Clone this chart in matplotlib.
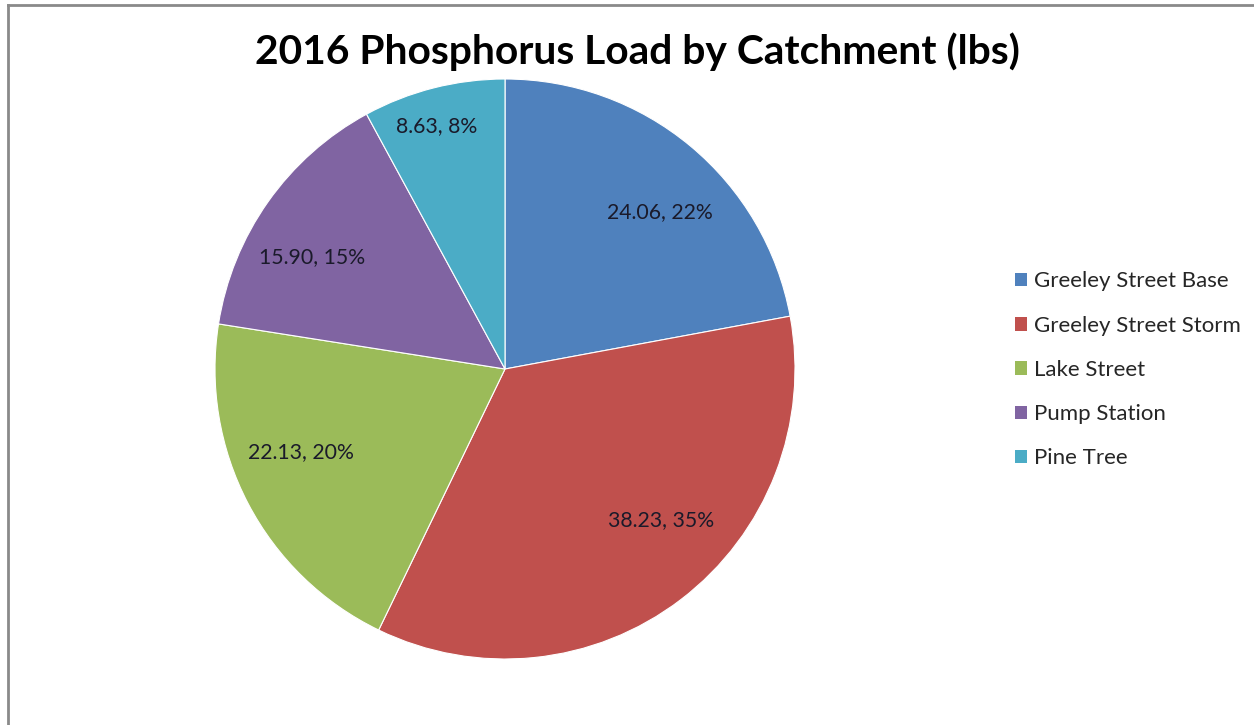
import matplotlib
matplotlib.use("Agg")
import matplotlib.pyplot as plt
from matplotlib.patches import Patch
import numpy as np

categories = ["Greeley Street Base", "Greeley Street Storm", "Lake Street", "Pump Station", "Pine Tree"]
values = [24.06, 38.23, 22.13, 15.90, 8.63]
colors = ["#4F81BD", "#C0504D", "#9BBB59", "#8064A2", "#4BACC6"]
title = "2016 Phosphorus Load by Catchment (lbs)"

plt.rcParams['font.family'] = ['Lato', 'DejaVu Sans']

W, H = 1254, 725
fig = plt.figure(figsize=(W / 100, H / 100), dpi=100)
fig.patch.set_facecolor("white")

# frame (left and top edges visible)
fig.add_artist(plt.Line2D([8 / W, 8 / W], [0, 1 - 5 / H], color="#8a8a8a", lw=2, transform=fig.transFigure))
fig.add_artist(plt.Line2D([8 / W, 1], [1 - 5 / H, 1 - 5 / H], color="#8a8a8a", lw=2, transform=fig.transFigure))

cx, cy, r = 505, 369, 290
ax = fig.add_axes([(cx - r) / W, (H - cy - r) / H, 2 * r / W, 2 * r / H])
total = sum(values)
wedges, _ = ax.pie(values, colors=colors, startangle=90, counterclock=False,
                   radius=1.0, wedgeprops=dict(edgecolor="white", linewidth=0.8))
ax.set_xlim(-1, 1)
ax.set_ylim(-1, 1)
ax.set_aspect("equal")
ax.axis("off")

label_r = [0.76, 0.75, 0.76, 0.77, 0.87]
label_dang = [-5, 8.5, -5.6, 5, 1.5]
for w, v, lr, da in zip(wedges, values, label_r, label_dang):
    ang = np.deg2rad((w.theta1 + w.theta2) / 2 + da)
    ax.text(lr * np.cos(ang), lr * np.sin(ang), f"{v:.2f}, {v / total * 100:.0f}%",
            ha="center", va="center", fontsize=15.3, color="#1a1a2a")

fig.text(637 / W, 1 - 52 / H, title, ha="center", va="center",
         fontsize=29.3, fontweight="bold", color="black")

handles = [Patch(facecolor=c, edgecolor="none") for c in colors]
fig.legend(handles, categories, loc="upper left", bbox_to_anchor=(1015 / W, 1 - 271.5 / H),
           frameon=False, fontsize=16, handlelength=0.55, handleheight=0.55,
           handletextpad=0.3, labelspacing=1.09, borderaxespad=0, borderpad=0,
           labelcolor="#262626")

fig.savefig("out.png", dpi=100, facecolor="white")
